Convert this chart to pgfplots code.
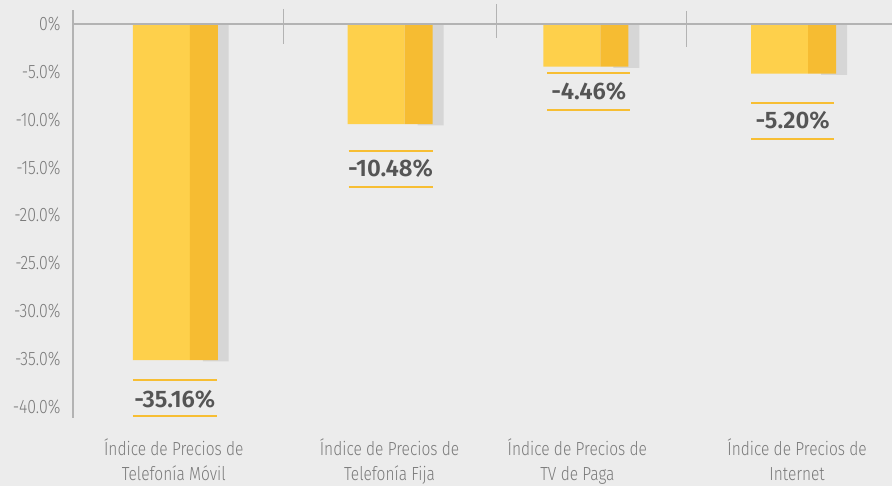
\documentclass[border=0pt]{standalone}
\usepackage{pgfplots}
\pgfplotsset{compat=1.18}
\usepackage{fontspec}
\setmainfont{Fira Sans}[UprightFont=* Light, BoldFont=* Medium, FakeStretch=0.82]
\newfontfamily\valfont{Fira Sans}[UprightFont=* SemiBold]

\definecolor{bgc}{HTML}{ECECEC}
\definecolor{axgray}{HTML}{B3B3B3}
\definecolor{txtgray}{HTML}{7A7A7A}
\definecolor{valgray}{HTML}{555555}
\definecolor{ylight}{HTML}{FED04B}
\definecolor{ydark}{HTML}{F6BC32}
\definecolor{shadow}{HTML}{D6D6D6}
\definecolor{lineyel}{HTML}{F7BE33}

\begin{document}
\begin{tikzpicture}
\fill[bgc] (-73bp,-69bp) rectangle (820bp,418bp);
\begin{axis}[
  at={(0,0)}, anchor=south west,
  scale only axis, width=820bp, height=408bp,
  xmin=0.73, xmax=8.93, ymin=-41.15, ymax=1.46,
  clip=false,
  axis lines*=left,
  x axis line style={draw=none},
  y axis line style={draw=axgray, line width=1.6bp},
  xtick={1.74,3.90,5.78,7.98},
  xticklabels={{Índice de Precios de\\Telefonía Móvil},
               {Índice de Precios de\\Telefonía Fija},
               {Índice de Precios de\\TV de Paga},
               {Índice de Precios de\\Internet}},
  ytick={-40,-35,-30,-25,-20,-15,-10,-5,0},
  yticklabels={-40.0\%,-35.0\%,-30.0\%,-25.0\%,-20.0\%,-15.0\%,-10.0\%,-5.0\%,0\%},
  major tick length=0pt,
  xticklabel style={align=center, font=\fontsize{19}{25}\selectfont, text=txtgray, anchor=north, yshift=-18bp},
  yticklabel style={font=\fontsize{19.5}{20}\selectfont, text=txtgray, anchor=east, xshift=-9bp},
]
% shadows
\addplot[ybar, bar width=0.26, bar shift=0, fill=shadow, draw=none]
  coordinates {(2.16,-35.28) (4.31,-10.60) (6.27,-4.58) (8.35,-5.32)};
% light part
\addplot[ybar, bar width=0.57, bar shift=0, fill=ylight, draw=none]
  coordinates {(1.615,-35.16) (3.765,-10.48) (5.725,-4.46) (7.805,-5.20)};
% dark part
\addplot[ybar, bar width=0.28, bar shift=0, fill=ydark, draw=none]
  coordinates {(2.04,-35.16) (4.19,-10.48) (6.15,-4.46) (8.23,-5.20)};
% zero line
\addplot[axgray, line width=2bp] coordinates {(0.73,0) (8.93,0)};
% separators
\addplot[axgray, line width=1.4bp] coordinates {(2.84,1.57) (2.84,-2.09)};
\addplot[axgray, line width=1.4bp] coordinates {(4.97,2.09) (4.97,-1.46)};
\addplot[axgray, line width=1.4bp] coordinates {(6.87,1.36) (6.87,-2.40)};
% lines around value labels
\addplot[lineyel, line width=2bp, unbounded coords=jump] coordinates {
  (1.33,-37.18) (2.17,-37.18) (1.33,nan)
  (1.33,-40.94) (2.17,-40.94) (1.33,nan)
  (3.49,-13.26) (4.33,-13.26) (3.49,nan)
  (3.49,-17.02) (4.33,-17.02) (3.49,nan)
  (5.48,-5.12) (6.31,-5.12) (5.48,nan)
  (5.48,-8.98) (6.31,-8.98) (5.48,nan)
  (7.52,-8.25) (8.35,-8.25) (7.52,nan)
  (7.52,-12.01) (8.35,-12.01)
};
% value labels
\addplot[draw=none, mark=none, point meta=explicit symbolic,
  nodes near coords,
  every node near coord/.style={anchor=center, inner sep=0pt, text=valgray,
    font=\fontsize{24}{24}\selectfont\valfont}]
  coordinates {(1.75,-39.27) [-35.16\%] (3.91,-15.14) [-10.48\%]
               (5.895,-7.05) [-4.46\%] (7.935,-10.13) [-5.20\%]};
\end{axis}
\end{tikzpicture}
\end{document}
